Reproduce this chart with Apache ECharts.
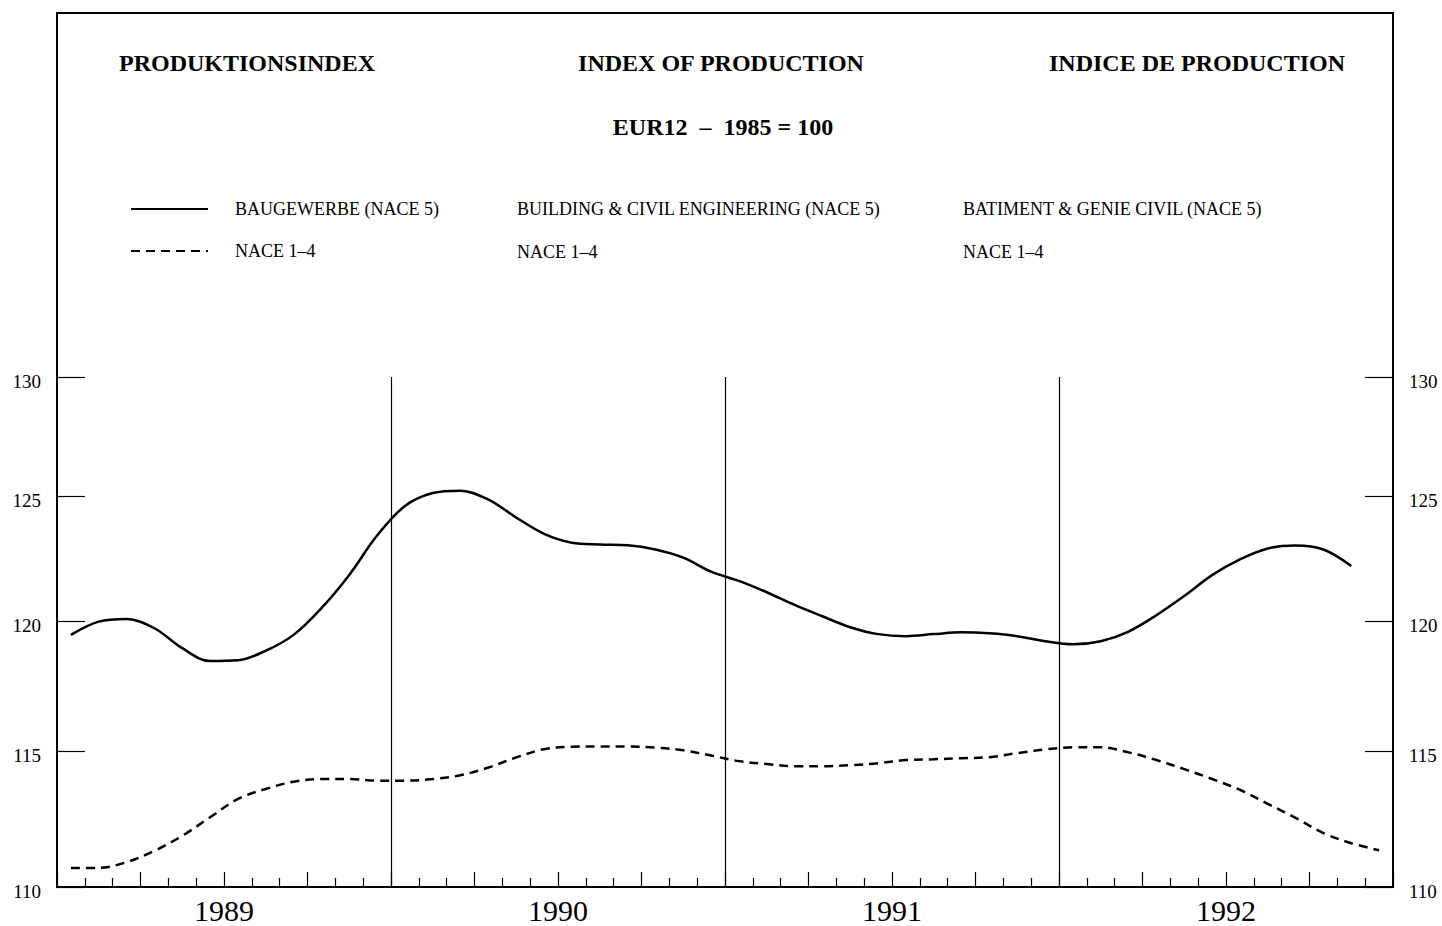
<!DOCTYPE html>
<html>
<head>
<meta charset="utf-8">
<title>Produktionsindex EUR12</title>
<script src="https://cdn.jsdelivr.net/npm/echarts@6/dist/echarts.min.js"></script>
<style>
  html, body { margin: 0; padding: 0; background: #ffffff; }
  #chart { width: 1442px; height: 926px; }
</style>
</head>
<body>
<div id="chart"></div>
<script>
// Monthly index values, January 1989 to December 1992 (1985 = 100)
const years = ['1989', '1990', '1991', '1992'];
const yTicks = [110, 115, 120, 125, 130];

// Building & civil engineering (NACE 5); December 1992 not yet available
const building = [
  119.47, 119.99, 120.09, 119.73, 118.95, 118.45, 118.48, 118.85, 119.47, 120.52, 121.84, 123.42,
  124.62, 125.15, 125.25, 124.88, 124.15, 123.49, 123.13, 123.06, 123.03, 122.86, 122.53, 121.97,
  121.60, 121.15, 120.65, 120.20, 119.77, 119.50, 119.42, 119.50, 119.57, 119.53, 119.42, 119.22,
  119.10, 119.22, 119.60, 120.24, 121.00, 121.83, 122.46, 122.90, 123.02, 122.86, 122.20, null
];

// Industry (NACE 1-4)
const nace14 = [
  110.69, 110.69, 110.90, 111.31, 111.86, 112.54, 113.22, 113.59, 113.86, 113.96, 113.96, 113.90,
  113.90, 113.96, 114.10, 114.39, 114.77, 115.08, 115.17, 115.18, 115.18, 115.14, 115.04, 114.84,
  114.63, 114.52, 114.44, 114.44, 114.48, 114.55, 114.67, 114.70, 114.74, 114.78, 114.93, 115.07,
  115.15, 115.15, 114.96, 114.67, 114.33, 113.96, 113.56, 113.04, 112.52, 111.96, 111.59, 111.33
];

const seriesNames = ['BAUGEWERBE (NACE 5)', 'NACE 1–4'];
const legendEn = ['BUILDING & CIVIL ENGINEERING (NACE 5)', 'NACE 1–4'];
const legendFr = ['BATIMENT & GENIE CIVIL (NACE 5)', 'NACE 1–4'];
const titles = ['PRODUKTIONSINDEX', 'INDEX OF PRODUCTION', 'INDICE DE PRODUCTION'];
const subtitle = 'EUR12  –  1985 = 100';

// month index -> x position at the middle of the month
const toPoints = arr => arr.map((v, i) => [i + 0.5, v]);
const yearMid = years.map((y, k) => k * 12 + 6);
const yearBounds = years.slice(1).map((y, k) => (k + 1) * 12);

const serif = 'Liberation Serif';
const chart = echarts.init(document.getElementById('chart'), null, { renderer: 'svg' });

const yAxisBase = {
  type: 'log',
  logBase: 10,
  min: 110,
  max: 130,
  splitLine: { show: false },
  minorTick: { show: false },
  axisLine: { show: true, lineStyle: { color: '#000', width: 1.5 } },
  axisTick: { show: true, inside: true, length: 28, customValues: yTicks, lineStyle: { color: '#000', width: 1.2 } },
  axisLabel: {
    customValues: yTicks, margin: 16, color: '#000', fontFamily: serif, fontSize: 19,
    verticalAlign: 'top', lineHeight: 8,
    formatter: v => String(Math.round(v))
  }
};

const textEl = (text, x, y, opts) => Object.assign({
  type: 'text', x: x, y: y, silent: true,
  style: Object.assign({ text: text, fill: '#000', font: '18px "' + serif + '"', textAlign: 'left', textVerticalAlign: 'middle' }, opts || {})
});

chart.setOption({
  animation: false,
  backgroundColor: '#ffffff',
  grid: { left: 57, right: 49, top: 377, bottom: 39 },
  legend: {
    orient: 'vertical',
    left: 130,
    top: 200,
    padding: 0,
    itemWidth: 77,
    itemHeight: 14,
    itemGap: 24,
    selectedMode: false,
    data: seriesNames,
    itemStyle: { opacity: 0 },
    textStyle: { color: '#000', fontFamily: serif, fontSize: 18, padding: [0, 0, 0, 22] }
  },
  xAxis: {
    type: 'value',
    min: 0,
    max: 48,
    interval: 3,
    splitLine: { show: false },
    axisLine: { show: true, lineStyle: { color: '#000', width: 1.5 } },
    axisTick: { show: true, inside: true, length: 15, lineStyle: { color: '#000', width: 1.2 } },
    minorTick: { show: true, splitNumber: 3, length: 9, lineStyle: { color: '#000', width: 1.2 } },
    axisLabel: {
      customValues: yearMid,
      formatter: v => years[Math.round((v - 6) / 12)],
      margin: 8,
      color: '#000',
      fontFamily: serif,
      fontSize: 30
    }
  },
  yAxis: [
    Object.assign({}, yAxisBase, { position: 'left' }),
    Object.assign({}, yAxisBase, { position: 'right' })
  ],
  graphic: [
    { type: 'rect', silent: true, shape: { x: 57, y: 13, width: 1336, height: 874 }, style: { fill: 'none', stroke: '#000', lineWidth: 2 } },
    textEl(titles[0], 247, 63, { font: 'bold 24px "' + serif + '"', textAlign: 'center' }),
    textEl(titles[1], 721, 63, { font: 'bold 24px "' + serif + '"', textAlign: 'center' }),
    textEl(titles[2], 1197, 63, { font: 'bold 24px "' + serif + '"', textAlign: 'center' }),
    textEl(subtitle, 723, 127, { font: 'bold 24px "' + serif + '"', textAlign: 'center' }),
    textEl(legendEn[0], 517, 209),
    textEl(legendEn[1], 517, 252),
    textEl(legendFr[0], 963, 209),
    textEl(legendFr[1], 963, 252)
  ],
  series: [
    {
      name: seriesNames[0],
      type: 'line',
      data: toPoints(building),
      smooth: 0.35,
      symbol: 'none',
      silent: true,
      lineStyle: { color: '#000', width: 2.5, type: 'solid' },
      itemStyle: { color: '#000' },
      markLine: {
        silent: true,
        symbol: ['none', 'none'],
        label: { show: false },
        lineStyle: { color: '#000', width: 1.2, type: 'solid' },
        data: yearBounds.map(b => ({ xAxis: b }))
      }
    },
    {
      name: seriesNames[1],
      type: 'line',
      data: toPoints(nace14),
      smooth: 0.35,
      symbol: 'none',
      silent: true,
      lineStyle: { color: '#000', width: 2.5, type: [9, 6] },
      itemStyle: { color: '#000' }
    }
  ]
});
</script>
</body>
</html>
